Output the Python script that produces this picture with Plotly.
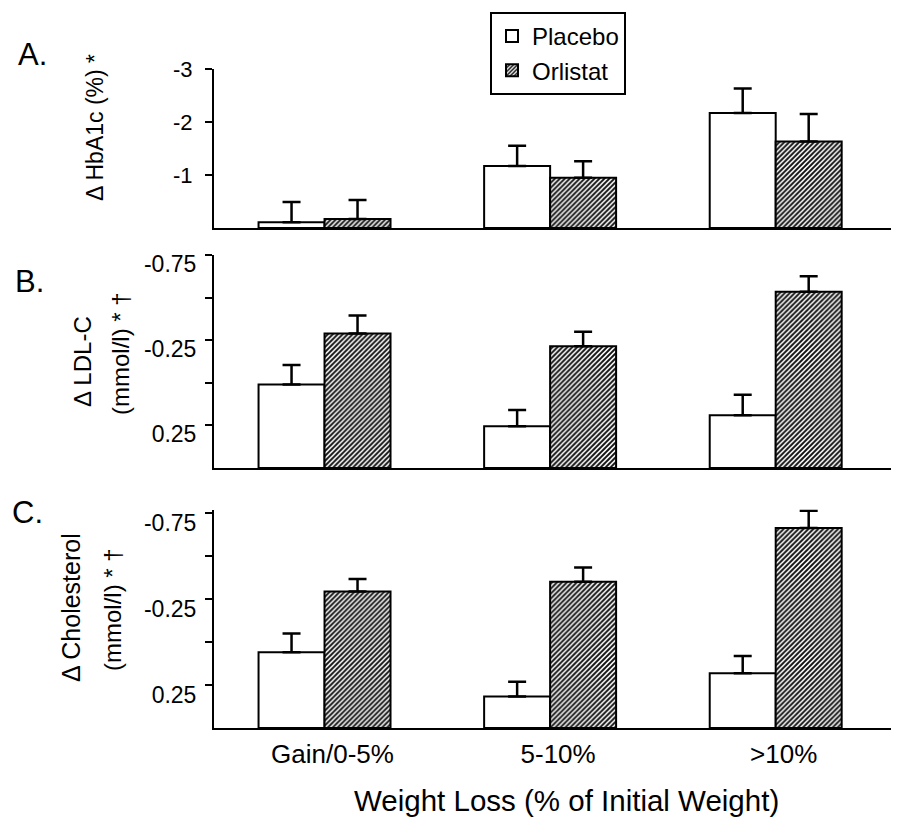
import plotly.graph_objects as go

W, H = 899, 825
OFF = 8  # the page body adds an 8px margin around the figure

categories = ["Gain/0-5%", "5-10%", ">10%"]

# Panel A: change in HbA1c (%)
hba1c_placebo = [-0.11, -1.17, -2.17]
hba1c_placebo_err = [0.38, 0.38, 0.46]
hba1c_orlistat = [-0.17, -0.95, -1.63]
hba1c_orlistat_err = [0.36, 0.31, 0.52]

# Panel B: change in LDL-C (mmol/l), as read on the printed axis
ldl_placebo = [0.01, 0.255, 0.19]
ldl_placebo_err = [0.115, 0.095, 0.12]
ldl_orlistat = [-0.29, -0.215, -0.535]
ldl_orlistat_err = [0.105, 0.085, 0.09]

# Panel C: change in total cholesterol (mmol/l), as read on the printed axis
chol_placebo = [0.06, 0.317, 0.181]
chol_placebo_err = [0.11, 0.086, 0.10]
chol_orlistat = [-0.294, -0.35, -0.663]
chol_orlistat_err = [0.073, 0.083, 0.10]

a_ticks = [-3, -2, -1]
a_ticktext = ["-3", "-2", "-1"]
bc_ticks = [-0.75, -0.5, -0.25, 0, 0.25]
bc_ticktext = ["-0.75", "", "-0.25", "", "0.25"]
bc_floor = 0.5

FONT = "Liberation Sans, Arial, sans-serif"


def px_x(x):
    return (x - OFF) / W


def px_y(y):
    return 1 - (y - OFF) / H


fig = go.Figure()

placebo_marker = dict(color="white", line=dict(color="black", width=2))
orlistat_marker = dict(
    color="white",
    line=dict(color="black", width=2),
    pattern=dict(shape="/", fgcolor="#111111", bgcolor="white", size=3.5, solidity=0.55),
)


def err(vals):
    return dict(type="data", symmetric=False, array=[0] * len(vals), arrayminus=vals,
                color="black", thickness=2.5, width=9)


panels = [
    ("x", "y", hba1c_placebo, hba1c_placebo_err, hba1c_orlistat, hba1c_orlistat_err, None),
    ("x2", "y2", ldl_placebo, ldl_placebo_err, ldl_orlistat, ldl_orlistat_err, bc_floor),
    ("x3", "y3", chol_placebo, chol_placebo_err, chol_orlistat, chol_orlistat_err, bc_floor),
]

for i, (xa, ya, pv, pe, ov, oe, base) in enumerate(panels):
    if base is None:
        py, oy, b = pv, ov, None
    else:
        py = [v - base for v in pv]
        oy = [v - base for v in ov]
        b = base
    fig.add_trace(go.Bar(x=categories, y=py, base=b, name="Placebo", marker=placebo_marker,
                         error_y=err(pe), xaxis=xa, yaxis=ya, showlegend=(i == 0),
                         legendgroup="p", cliponaxis=False))
    fig.add_trace(go.Bar(x=categories, y=oy, base=b, name="Orlistat", marker=orlistat_marker,
                         error_y=err(oe), xaxis=xa, yaxis=ya, showlegend=(i == 0),
                         legendgroup="o", cliponaxis=False))

x_dom = [px_x(214), px_x(893)]
x_range = [-0.49, 2.52]

common_x = dict(domain=x_dom, range=x_range, showline=True, linecolor="black", linewidth=2,
                ticks="", showgrid=False, zeroline=False, type="category", automargin=False)
common_y = dict(showline=True, linecolor="black", linewidth=2, ticks="outside", ticklen=7,
                tickwidth=2, tickcolor="black", showgrid=False, zeroline=False, automargin=False,
                tickfont=dict(family=FONT, size=23, color="black"))

# panel C's top is stretched a little so the tallest error cap is not clipped
c_top = -0.77
c_px_per_unit = (728 - 513) / (bc_floor + 0.75)
c_top_px = 513 - (0.75 + c_top) * -c_px_per_unit

fig.update_layout(
    template="none",
    width=W, height=H,
    margin=dict(l=0, r=0, t=0, b=0, pad=0),
    paper_bgcolor="white", plot_bgcolor="white",
    barmode="group", bargap=0.415, bargroupgap=0,
    font=dict(family=FONT, color="black"),
    xaxis=dict(common_x, anchor="y", showticklabels=False),
    xaxis2=dict(common_x, anchor="y2", showticklabels=False),
    xaxis3=dict(common_x, anchor="y3", showticklabels=True,
                tickfont=dict(family=FONT, size=26, color="black"),
                ticklabelstandoff=2, ticklabelshift=8),
    yaxis=dict(common_y, anchor="x", domain=[px_y(228), px_y(69)], range=[0, -3],
               tickvals=a_ticks, ticktext=a_ticktext, ticklabelstandoff=8,
               tickfont=dict(family=FONT, size=22, color="black")),
    yaxis2=dict(common_y, anchor="x2", domain=[px_y(468), px_y(255)], range=[bc_floor, -0.75],
                tickvals=bc_ticks, ticktext=bc_ticktext, ticklabelstandoff=4, ticklabelshift=-9),
    yaxis3=dict(common_y, anchor="x3", domain=[px_y(728), px_y(c_top_px)], range=[bc_floor, c_top],
                tickvals=bc_ticks, ticktext=bc_ticktext, ticklabelstandoff=4, ticklabelshift=-10),
    legend=dict(x=px_x(490), y=px_y(12), xanchor="left", yanchor="top",
                bgcolor="white", bordercolor="black", borderwidth=2,
                font=dict(family=FONT, size=24, color="black"),
                itemwidth=30, tracegroupgap=0),
)


def ann(text, x, y, size, angle=0, xanchor="center"):
    fig.add_annotation(text=text, x=px_x(x), y=px_y(y), xref="paper", yref="paper",
                       showarrow=False, textangle=angle, xanchor=xanchor, yanchor="middle",
                       font=dict(family=FONT, size=size, color="black"))


ann("A.", 16, 54, 31, xanchor="left")
ann("B.", 13, 282, 31, xanchor="left")
ann("C.", 10, 513, 31, xanchor="left")

ann("\u0394 HbA1c (%) *", 95, 128, 23, angle=-90)
ann("\u0394 LDL-C", 82, 362, 24, angle=-90)
ann("(mmol/l) * \u2020", 120, 354, 24, angle=-90)
ann("\u0394 Cholesterol", 71, 608, 25, angle=-90)
ann("(mmol/l) * \u2020", 112, 610, 24, angle=-90)

ann("Weight Loss (% of Initial Weight)", 566, 800, 29.5)

fig.write_html("out.html")
